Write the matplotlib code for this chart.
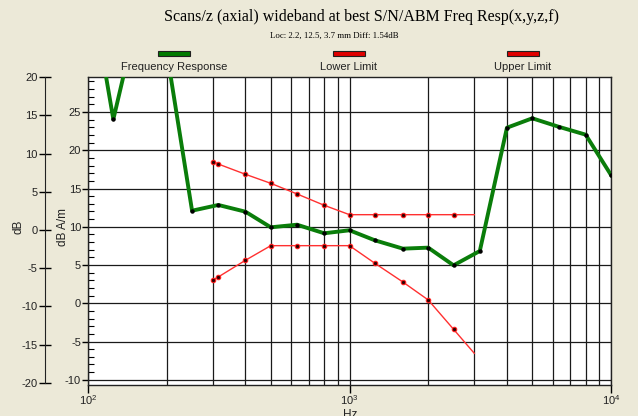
import matplotlib
matplotlib.use("Agg")
import matplotlib.pyplot as plt
from matplotlib.patches import Rectangle
from matplotlib.ticker import LogLocator, NullFormatter, FixedLocator, MultipleLocator

# frequency response (dB A/m) at 1/3 octave points
freq_hz = [100, 125, 160, 200, 250, 315, 400, 500, 630, 800, 1000,
           1250, 1600, 2000, 2500, 3150, 4000, 5000, 6300, 8000, 10000]
freq_db = [43.4, 24.05, 39.7, 32.9, 12.1, 12.85, 11.97, 9.93, 10.27, 9.15, 9.54,
           8.23, 7.14, 7.27, 4.96, 6.83, 22.95, 24.18, 23.08, 22.04, 16.77]

# limit masks
limit_hz = [300, 315, 400, 500, 630, 800, 1000, 1250, 1600, 2000, 2500, 3000]
upper_db = [18.51, 18.2, 16.86, 15.68, 14.29, 12.81, 11.58, 11.58, 11.58, 11.58, 11.58, 11.58]
lower_db = [3.04, 3.44, 5.62, 7.53, 7.53, 7.53, 7.53, 5.23, 2.78, 0.43, -3.4, -6.54]

legend_names = ["Frequency Response", "Lower Limit", "Upper Limit"]
legend_cols = ["#007a00", "#e00000", "#e00000"]

bg = "#ECE9D8"
W, H = 638, 416
plt.rcParams['font.family'] = ['Liberation Sans', 'DejaVu Sans']
plt.rcParams['axes.unicode_minus'] = False
plt.rcParams['mathtext.default'] = 'regular'

fig = plt.figure(figsize=(W / 100, H / 100), dpi=100, facecolor=bg)

left, right = 88 / W, 611 / W
top = 1 - 77.3 / H
bottom = 1 - 384.5 / H
ax = fig.add_axes([left, bottom, right - left, top - bottom])
ax.set_facecolor("white")

ax.plot(freq_hz, freq_db, color="#0a7d0a", lw=2.8, solid_joinstyle="round",
        marker="o", ms=2.2, mfc="black", mec="black", zorder=4)
ax.plot(limit_hz, upper_db, color="#ff3030", lw=1.0, marker="o", ms=3.2,
        mfc="#300000", mec="#ff2020", mew=0.8, markevery=slice(0, -1), zorder=3)
ax.plot(limit_hz, lower_db, color="#ff3030", lw=1.0, marker="o", ms=3.2,
        mfc="#300000", mec="#ff2020", mew=0.8, markevery=slice(0, -1), zorder=3)

ax.set_xscale("log")
ax.set_xlim(100, 10000)
ax.set_ylim(-10.62, 29.54)
ax.xaxis.set_major_locator(FixedLocator([100, 1000, 10000]))
ax.xaxis.set_minor_locator(LogLocator(base=10, subs=range(2, 10)))
ax.xaxis.set_minor_formatter(NullFormatter())
ax.set_xticklabels([r"$10^2$", r"$10^3$", r"$10^4$"])
ax.tick_params(axis="x", which="major", direction="out", length=6, width=1,
               labelsize=8, pad=0.5, labelcolor="#222222")
ax.tick_params(axis="x", which="minor", length=0)

ax.yaxis.set_major_locator(MultipleLocator(5))
ax.yaxis.set_minor_locator(MultipleLocator(1))
ax.tick_params(axis="y", which="major", direction="out", length=4, width=1,
               labelsize=8, pad=1, labelcolor="#222222")
ax.tick_params(axis="y", which="minor", direction="in", length=4, width=0.8)

ax.grid(True, which="both", axis="x", color="#1a1a1a", lw=0.9)
ax.grid(True, which="major", axis="y", color="#1a1a1a", lw=0.9)
for s in ax.spines.values():
    s.set_color("#222222")
    s.set_linewidth(1.0)

# outer dB scale
b2 = 1 - 382.7 / H
ax_db = fig.add_axes([45 / W, b2, 0.002, top - b2])
ax_db.set_facecolor("none")
ax_db.set_ylim(-20, 20)
ax_db.yaxis.set_major_locator(MultipleLocator(5))
ax_db.set_xticks([])
for k in ["top", "right", "bottom"]:
    ax_db.spines[k].set_visible(False)
ax_db.spines["left"].set_color("#222222")
ax_db.tick_params(axis="y", direction="inout", length=9, width=1, labelsize=8, pad=1,
                  labelcolor="#222222")

fig.text(18 / W, 1 - 227 / H, "dB", rotation=90, ha="center", va="center",
         fontsize=8.5, color="#222222")
fig.text(63 / W, 1 - 227 / H, "dB A/m", rotation=90, ha="center", va="center",
         fontsize=8.5, color="#222222")
fig.text(350 / W, 1 - 408.5 / H, "Hz", ha="center", va="top", fontsize=8.5,
         color="#222222")

# titles
fig.text(361 / W, 1 - 17 / H, "Scans/z (axial) wideband at best S/N/ABM Freq Resp(x,y,z,f)",
         ha="center", va="center", fontsize=11.5, family="Liberation Serif")
fig.text(334 / W, 1 - 36 / H, "Loc: 2.2, 12.5, 3.7 mm Diff: 1.54dB",
         ha="center", va="center", fontsize=6.3, family="Liberation Serif")

# legend: swatch above each label
centres = [174, 349, 523]
for name, col, cx in zip(legend_names, legend_cols, centres):
    fig.patches.append(Rectangle(((cx - 16) / W, 1 - 55.5 / H), 32 / W, 5 / H,
                                 transform=fig.transFigure, facecolor=col,
                                 edgecolor="#202020", lw=0.8))
    fig.text(cx / W, 1 - 67.5 / H, name, ha="center", va="center", fontsize=8,
             color="#222222")

fig.savefig("out.png", dpi=100, facecolor=bg)
